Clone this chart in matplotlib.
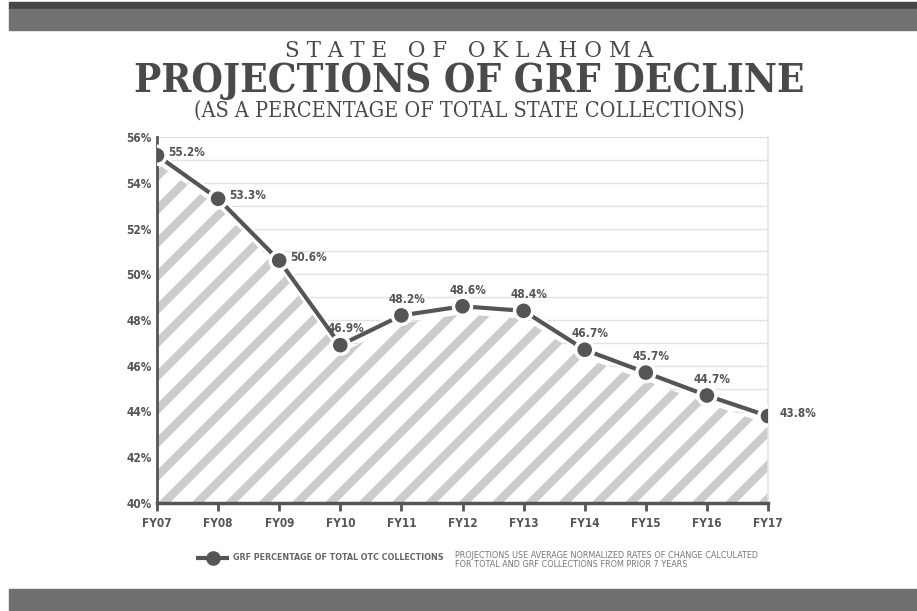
import matplotlib
matplotlib.use("Agg")
import matplotlib.pyplot as plt
import matplotlib.patheffects as pe

years = ["FY07", "FY08", "FY09", "FY10", "FY11", "FY12", "FY13", "FY14", "FY15", "FY16", "FY17"]
grf_pct = [55.2, 53.3, 50.6, 46.9, 48.2, 48.6, 48.4, 46.7, 45.7, 44.7, 43.8]
label_pos = ["right", "right", "right", "above", "above", "above", "above", "above", "above", "above", "right"]
y_ticks = [40, 42, 44, 46, 48, 50, 52, 54, 56]

cond = ["Liberation Sans Narrow", "DejaVu Sans"]

plt.rcParams["hatch.linewidth"] = 6
plt.rcParams["hatch.color"] = "#cccccc"

dark = "#555555"
fig = plt.figure(figsize=(9.17, 6.11), dpi=100)

# header / footer bands
fig.patches.append(plt.Rectangle((9 / 917, 1 - 9 / 611), 1, 7 / 611, transform=fig.transFigure, color="#464646"))
fig.patches.append(plt.Rectangle((9 / 917, 1 - 30 / 611), 1, 21 / 611, transform=fig.transFigure, color="#727272"))
fig.patches.append(plt.Rectangle((9 / 917, 0), 1, 22 / 611, transform=fig.transFigure, color="#6f6f6f"))

cx = 469 / 917
fig.text(cx, 1 - 51 / 611, "S T A T E   O F   O K L A H O M A", ha="center", va="center",
         fontsize=15.5, family="DejaVu Serif", color="#4a4a4a")
fig.text(cx, 1 - 81 / 611, "PROJECTIONS OF GRF DECLINE", ha="center", va="center",
         fontsize=29, family="DejaVu Serif", fontweight="bold", fontstretch="condensed", color="#4a4a4a")
fig.text(cx, 1 - 110 / 611, "(AS A PERCENTAGE OF TOTAL STATE COLLECTIONS)", ha="center", va="center",
         fontsize=15.5, family="DejaVu Serif", fontstretch="condensed", color="#4a4a4a")

ax = fig.add_axes([157 / 917, 108 / 611, 611 / 917, 366 / 611])
x = list(range(len(years)))
ax.fill_between(x, [v - 0.35 for v in grf_pct], 40, facecolor="white", edgecolor="#cccccc",
                hatch="/", linewidth=0, zorder=1)
ax.plot(x, grf_pct, color=dark, lw=3, marker="o", ms=9.5, zorder=3,
        path_effects=[pe.Stroke(linewidth=6, foreground="white"), pe.Normal()])

for xi, v, pos in zip(x, grf_pct, label_pos):
    if pos == "right":
        ax.annotate(f"{v}%", (xi, v), xytext=(8, 2), textcoords="offset points", ha="left", va="center",
                    fontsize=8.5, family=cond, fontweight="bold", fontstretch="condensed", color=dark)
    else:
        ax.annotate(f"{v}%", (xi, v), xytext=(4, 7), textcoords="offset points", ha="center", va="bottom",
                    fontsize=8.5, family=cond, fontweight="bold", fontstretch="condensed", color=dark)

ax.set_xlim(0, len(years) - 1)
ax.set_ylim(40, 56)
ax.set_yticks(y_ticks)
ax.set_yticklabels([f"{t}%" for t in y_ticks])
ax.set_yticks(range(40, 57), minor=True)
ax.set_xticks(x)
ax.set_xticklabels(years)
ax.grid(True, which="both", axis="y", color="#e2e2e2", lw=1, zorder=0)
ax.set_axisbelow(True)
ax.spines["top"].set_visible(False)
ax.spines["right"].set_color("#e2e2e2")
ax.spines["right"].set_linewidth(1.2)
ax.spines["left"].set_color(dark)
ax.spines["left"].set_linewidth(2)
ax.spines["bottom"].set_color(dark)
ax.spines["bottom"].set_linewidth(2.5)
ax.tick_params(axis="y", which="both", length=0, pad=4)
ax.tick_params(axis="x", length=6, width=2, color=dark, pad=4)
for lab in ax.get_xticklabels() + ax.get_yticklabels():
    lab.set_family(cond)
    lab.set_fontweight("bold")
    lab.set_fontstretch("condensed")
    lab.set_fontsize(8.5)
    lab.set_color(dark)

# legend
leg_ax = fig.add_axes([196 / 917, 43 / 611, 33 / 917, 20 / 611])
leg_ax.plot([0, 1], [0, 0], color=dark, lw=3)
leg_ax.plot([0.5], [0], color=dark, marker="o", ms=9.5)
leg_ax.set_xlim(0, 1)
leg_ax.axis("off")
fig.text(233 / 917, 1 - 558 / 611, "GRF PERCENTAGE OF TOTAL OTC COLLECTIONS", ha="left", va="center",
         fontsize=6.4, family=cond, fontweight="bold", fontstretch="condensed", color="#666666")
fig.text(455 / 917, 1 - 560 / 611,
         "PROJECTIONS USE AVERAGE NORMALIZED RATES OF CHANGE CALCULATED\nFOR TOTAL AND GRF COLLECTIONS FROM PRIOR 7 YEARS",
         ha="left", va="center", fontsize=6.5, family=cond, fontstretch="condensed", color="#777777",
         linespacing=1.0)

fig.savefig("out.png", dpi=100)
